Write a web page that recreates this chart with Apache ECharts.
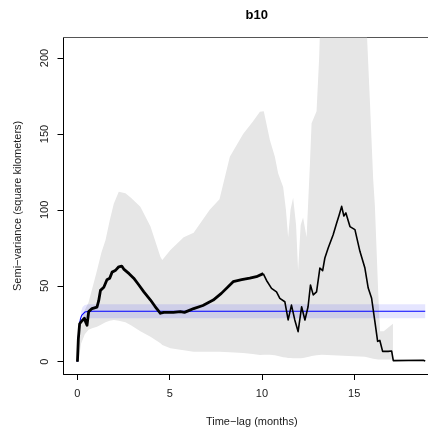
<!DOCTYPE html>
<html>
<head>
<meta charset="utf-8">
<script src="https://cdn.jsdelivr.net/npm/echarts@6/dist/echarts.min.js"></script>
<style>
html,body{margin:0;padding:0;background:#fff;}
#chart{width:428px;height:435px;}
</style>
</head>
<body>
<div id="chart"></div>
<script>
// ---- data ----
const titleText = 'b10';
const xTitle = 'Time\u2212lag (months)';
const yTitle = 'Semi\u2212variance (square kilometers)';
const xTicks = [0, 5, 10, 15];
const yTicks = [0, 50, 100, 150, 200];

// grey simulation envelope
const envX  = [0.05, 0.2, 0.4, 0.6, 0.8, 1.06, 1.3, 1.52, 1.75, 1.97, 2.24, 2.6, 2.9, 3.41, 3.96, 4.5, 4.6, 5.04, 5.76, 6.3, 7.17, 7.7, 8.26, 8.98, 9.5, 9.89, 10.1, 10.43, 10.7, 10.88, 11.15, 11.3, 11.42, 11.55, 11.69, 11.85, 11.96, 12.1, 12.23, 12.42, 12.6, 12.69, 12.96, 13.1, 13.25, 15.58, 15.7, 15.86, 16.03, 16.12, 16.3, 16.4, 16.6, 17.0, 17.1];
const envHi = [8, 26, 34, 39, 48, 60, 72, 80, 93, 104, 112, 111, 108, 102, 89, 69, 67, 73.6, 82, 85, 100, 107, 135, 150, 158, 164.6, 165, 146, 135, 124, 115, 100, 82, 100, 108, 90, 60, 90, 95, 82, 130, 157, 165, 200, 260, 260, 213, 169, 120, 103, 46, 20, 20, 24, 25];
const envLo = [0, 12, 18, 21, 22, 23, 24.5, 26, 27, 27.5, 27, 26, 24, 20, 16.5, 12.2, 11, 8.8, 7.5, 6.6, 6.5, 6.5, 6.3, 5.8, 5, 4.4, 4.5, 4.5, 4.2, 3.8, 3, 2.8, 2.5, 2.4, 2.3, 2.2, 2.2, 2.2, 2.5, 3, 3.5, 3.8, 4.2, 4.4, 4.6, 3.2, 3, 2.5, 2, 1.8, 1.5, 1.5, 1.5, 1.5, 1.5];

// blue confidence band of fitted model
const bandX  = [0.2, 0.28, 0.4, 0.6, 18.85];
const bandHi = [33, 36, 37.4, 37.8, 37.8];
const bandLo = [27, 28.3, 28.6, 28.6, 28.6];

// fitted model (blue line)
const modelX = [0, 0.02, 0.05, 0.08, 0.12, 0.17, 0.23, 0.3, 0.4, 0.55, 0.75, 1.0, 18.85];
const modelY = [0, 8, 16, 21, 25.5, 28.5, 30.5, 31.8, 32.7, 33.1, 33.2, 33.2, 33.2];

// empirical semi-variance (black line), dense part and sparse part
const semiX1 = [0, 0.05, 0.12, 0.25, 0.38, 0.45, 0.52, 0.61, 0.79, 1.06, 1.15, 1.25, 1.35, 1.43, 1.6, 1.75, 1.88, 2.05, 2.24, 2.4, 2.51, 2.8, 3.05, 3.3, 3.6, 3.96, 4.2, 4.5, 4.68, 5.2, 5.58, 5.8, 6.0, 6.3, 6.8, 7.36, 7.8, 8.44, 8.9, 9.34, 9.7, 10.07];
const semiY1 = [0, 15, 25, 27, 28.6, 26, 24, 33, 35, 36, 40, 47, 46, 49, 54, 55, 59, 60, 62.5, 63, 61, 58, 55, 51, 46, 40.6, 36.5, 31.9, 32.5, 32.5, 33, 32.5, 33.5, 35, 37, 40.6, 45, 52.7, 54, 55, 56, 58];
const semiX2 = [10.07, 10.25, 10.52, 10.79, 10.97, 11.24, 11.42, 11.6, 11.78, 11.96, 12.15, 12.33, 12.5, 12.63, 12.78, 12.96, 13.14, 13.29, 13.41, 13.59, 13.86, 14.05, 14.19, 14.32, 14.44, 14.55, 14.77, 15.04, 15.31, 15.58, 15.76, 15.94, 16.12, 16.27, 16.39, 16.54, 16.84, 17.03, 17.12, 18.74, 18.85];
const semiY2 = [58, 53.5, 48.3, 46, 41.7, 39.5, 27.5, 37.3, 27.5, 19.8, 36.2, 27.5, 36.2, 50.5, 44, 46, 61.7, 60, 68.3, 74.9, 83.6, 91.3, 96.8, 102.3, 96, 98, 89, 87, 72.7, 61.7, 48.5, 42, 26.6, 13.4, 14, 6.8, 6.8, 7, 0.7, 1, 0.5];

// ---- build chart ----
const pairs = (xs, ys) => xs.map((x, i) => [x, ys[i]]);
function polygonRenderer(xs, lo, hi, fill) {
  return function (params, api) {
    const pts = [];
    for (let i = 0; i < xs.length; i++) pts.push(api.coord([xs[i], hi[i]]));
    for (let i = xs.length - 1; i >= 0; i--) pts.push(api.coord([xs[i], lo[i]]));
    return { type: 'polygon', shape: { points: pts }, style: { fill: fill } };
  };
}
const FONT = 'Liberation Sans, Arial, Helvetica, sans-serif';
const X_MIN = -0.755, X_MAX = 19.0;
const chart = echarts.init(document.getElementById('chart'), null, { renderer: 'canvas' });
chart.setOption({
  animation: false,
  backgroundColor: '#ffffff',
  title: {
    text: titleText, left: 251.7, top: 4, textAlign: 'center',
    textStyle: { fontFamily: FONT, fontSize: 13, fontWeight: 'bold', color: '#000' }
  },
  grid: { left: 63.5, right: 0, top: 37.7, bottom: 61, show: false },
  xAxis: [{
    type: 'value', min: X_MIN, max: X_MAX, position: 'bottom',
    name: xTitle, nameLocation: 'middle', nameGap: 42,
    nameTextStyle: { fontFamily: FONT, fontSize: 11, color: '#1a1a1a', padding: [0, 0, 0, 12] },
    axisLine: { show: true, onZero: false, lineStyle: { color: '#000', width: 1 } },
    axisTick: { show: true, customValues: xTicks, length: 6, lineStyle: { color: '#000' } },
    axisLabel: { customValues: xTicks, margin: 14, fontFamily: FONT, fontSize: 11, color: '#1a1a1a' },
    splitLine: { show: false }
  }, {
    type: 'value', min: X_MIN, max: X_MAX, position: 'top',
    axisLine: { show: true, onZero: false, lineStyle: { color: '#555', width: 1 } },
    axisTick: { show: false }, axisLabel: { show: false }, splitLine: { show: false }
  }],
  yAxis: {
    type: 'value', min: -8.1, max: 213.4,
    name: yTitle, nameLocation: 'middle', nameGap: 40, nameRotate: 90,
    nameTextStyle: { fontFamily: FONT, fontSize: 11, color: '#1a1a1a' },
    axisLine: { show: true, onZero: false, lineStyle: { color: '#000', width: 1 } },
    axisTick: { show: true, customValues: yTicks, length: 6, lineStyle: { color: '#000' } },
    axisLabel: { customValues: yTicks, rotate: 90, margin: 13, fontFamily: FONT, fontSize: 11, color: '#1a1a1a' },
    splitLine: { show: false }
  },
  series: [
    { type: 'custom', silent: true, clip: true, z: 1, data: [[0, 0]],
      renderItem: polygonRenderer(envX, envLo, envHi, '#e6e6e6') },
    { type: 'custom', silent: true, clip: true, z: 2, data: [[0, 0]],
      renderItem: polygonRenderer(bandX, bandLo, bandHi, 'rgba(0,0,255,0.1)') },
    { type: 'line', z: 3, data: pairs(modelX, modelY), symbol: 'none', smooth: false,
      lineStyle: { color: '#0000ff', width: 1.1 } },
    { type: 'line', z: 4, data: pairs(semiX1, semiY1), symbol: 'none', smooth: false,
      lineStyle: { color: '#000', width: 2.8, join: 'round' } },
    { type: 'line', z: 4, data: pairs(semiX2, semiY2), symbol: 'none', smooth: false,
      lineStyle: { color: '#000', width: 1.6, join: 'round' } }
  ]
});
</script>
</body>
</html>
